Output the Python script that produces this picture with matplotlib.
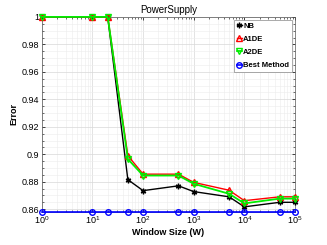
import matplotlib
matplotlib.use('Agg')
import matplotlib.pyplot as plt
from matplotlib.ticker import MultipleLocator, LogLocator, NullFormatter, FormatStrFormatter

plt.rcParams['font.family'] = ['Liberation Sans Narrow', 'Liberation Sans', 'DejaVu Sans']

# data
window = [1, 10, 20, 50, 100, 500, 1000, 5000, 10000, 50000, 100000]
nb    = [1.0, 1.0, 1.0, 0.8815, 0.8735, 0.8770, 0.8728, 0.8690, 0.8617, 0.8650, 0.8650]
a1de  = [1.0, 1.0, 1.0, 0.8990, 0.8855, 0.8855, 0.8795, 0.8738, 0.8662, 0.8690, 0.8690]
a2de  = [1.0, 1.0, 1.0, 0.8965, 0.8845, 0.8845, 0.8785, 0.8712, 0.8642, 0.8677, 0.8677]
best  = [0.8583] * len(window)

fig = plt.figure(figsize=(3.27, 2.45), dpi=100)
ax = fig.add_axes([0.128, 0.135, 0.774, 0.796])

ax.plot(window, nb, color='black', lw=1.0, marker=(6, 2, 0), ms=4, mew=1.0, label='NB', zorder=4, clip_on=False)
ax.plot(window, a1de, color='red', lw=1.0, marker='^', ms=4.5, mfc='none', mew=1.0, label='A1DE', zorder=5, clip_on=False)
ax.plot(window, a2de, color='#00ee00', lw=1.3, marker='v', ms=4.5, mfc='none', mew=1.0, label='A2DE', zorder=6, clip_on=False)
ax.plot(window, best, color='blue', lw=1.2, marker='o', ms=4, mfc='none', mew=1.0, label='Best Method', zorder=7, clip_on=False)

ax.set_xscale('log')
ax.set_xlim(1, 1e5)
ax.set_ylim(0.858, 1.0)

ax.xaxis.set_major_locator(LogLocator(base=10, numticks=10))
ax.xaxis.set_minor_locator(LogLocator(base=10, subs=range(2, 10), numticks=20))
ax.xaxis.set_minor_formatter(NullFormatter())
ax.yaxis.set_major_locator(MultipleLocator(0.02))
ax.yaxis.set_minor_locator(MultipleLocator(0.005))
ax.yaxis.set_major_formatter(FormatStrFormatter('%g'))

ax.tick_params(which='both', direction='in', top=True, right=True, labelsize=6.5, pad=2)
ax.tick_params(which='major', length=2.5, width=0.5)
ax.tick_params(which='minor', length=1.5, width=0.4)

ax.grid(which='major', color='#d8d8d8', lw=0.5)
ax.grid(which='minor', color='#ececec', lw=0.4)
ax.set_axisbelow(True)
for s in ax.spines.values():
    s.set_linewidth(0.5)
    s.set_color('#555555')

ax.set_title('PowerSupply', fontsize=7, pad=3)
ax.set_xlabel('Window Size (W)', fontsize=6.5, fontweight='bold', labelpad=1)
ax.set_ylabel('Error', fontsize=6.5, fontweight='bold', labelpad=2)

leg = ax.legend(loc='upper right', prop={'size': 5.5, 'weight': 'bold'}, handlelength=0.7,
                handletextpad=0.15, borderpad=0.4, labelspacing=0.75, fancybox=False,
                framealpha=1, borderaxespad=0.35)
leg.get_frame().set_linewidth(0.5)
leg.get_frame().set_edgecolor('#888888')

fig.savefig('out.png', dpi=100)
